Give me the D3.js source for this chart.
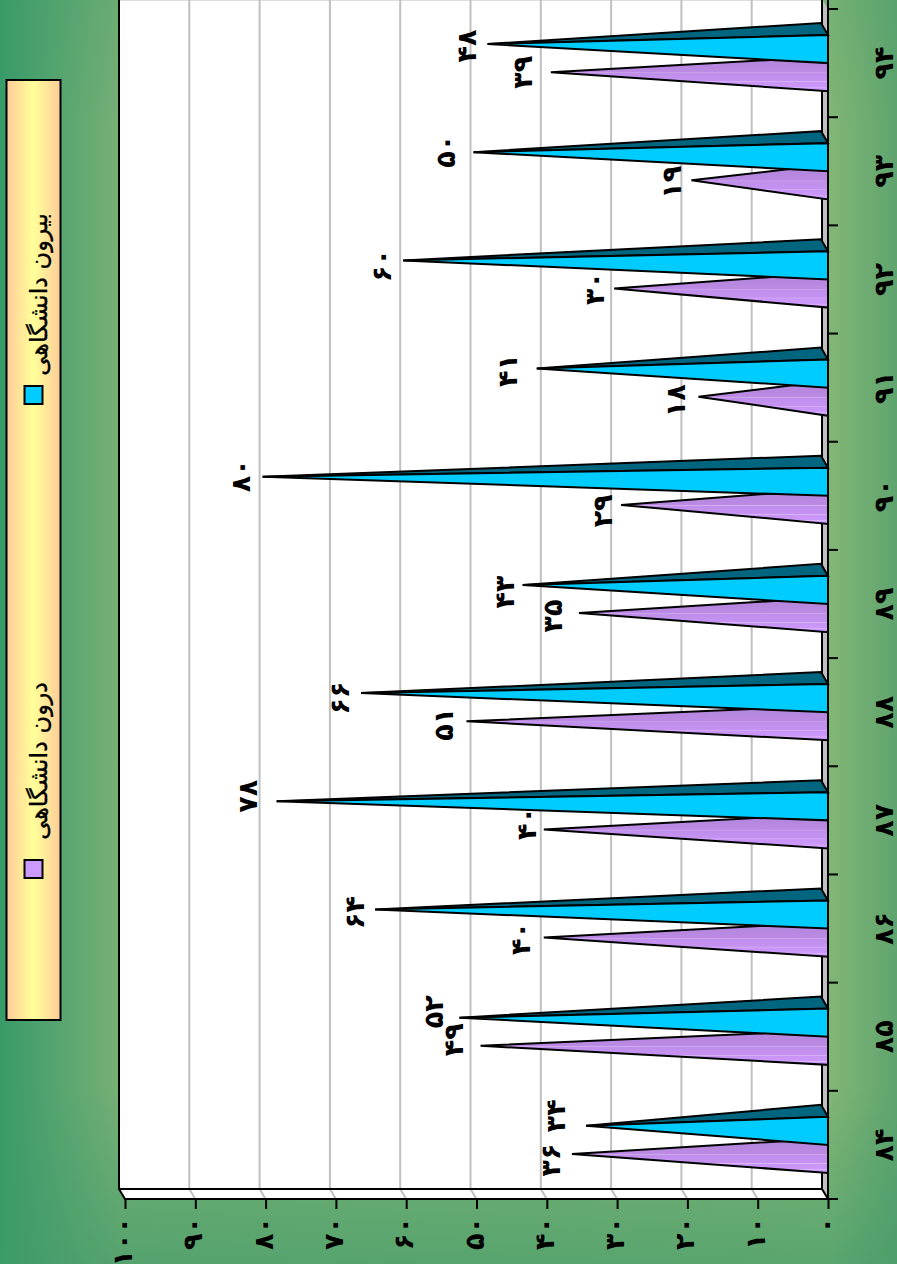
<!DOCTYPE html>
<html><head><meta charset="utf-8">
<script src="https://cdnjs.cloudflare.com/ajax/libs/d3/7.8.5/d3.min.js"></script>
<style>html,body{margin:0;padding:0;background:#fff}svg{display:block}
text{font-family:"DejaVu Sans",sans-serif}</style></head><body>
<svg id="c" width="897" height="1264"></svg>
<script>
const categories=[84,85,86,87,88,89,90,91,92,93,94];
const insideValues=[36,49,40,40,51,35,29,18,30,19,39];
const outsideValues=[34,52,64,78,66,43,80,41,60,50,48];
const valueTicks=[0,10,20,30,40,50,60,70,80,90,100];
const seriesNames=["درون دانشگاهی","بیرون دانشگاهی"];
// hand-placed data labels in the source chart: [dx,dy] relative to the default spot
const insideNudge=[[2,6],[-4,-6],[0,1],[6,-6],[0,3],[-3,3],[4,6],[0,4],[3,0],[3,2],[-5,0]];
const outsideNudge=[[-7,-10],[-3,-6],[2,3],[-6,-5],[1,5],[5,7],[1,-1],[-6,2],[1,5],[-5,-1],[2,2]];

const W=897,H=1264,svg=d3.select("#c");
const fa=n=>String(n).replace(/\d/g,d=>"۰۱۲۳۴۵۶۷۸۹"[d]);
const x=d3.scaleLinear().domain([0,100]).range([828,125]);
const y=d3.scaleBand().domain(categories).range([1199,9]).paddingInner(0.48).paddingOuter(0.24);
const step=y.step();
const y2=d3.scaleBand().domain([1,0]).range([0,y.bandwidth()]);
const depth={x:-6,y:-10},barDepth={x:-7,y:-12},innerDepth={x:-7,y:-6};
const defs=svg.append("defs");
function grad(id,attrs,stops){const g=defs.append("linearGradient").attr("id",id);
  Object.entries(attrs).forEach(([k,v])=>g.attr(k,v));
  stops.forEach(s=>g.append("stop").attr("offset",s[0]).attr("stop-color",s[1]).attr("stop-opacity",s[2]===undefined?1:s[2]));}
grad("bgH",{x1:0,y1:0,x2:1,y2:0},[[0,"#389a69"],[120/897,"#77b076"],[830/897,"#82b676"],[1,"#5fa46e"]]);
grad("bgB",{x1:0,y1:0,x2:0,y2:1},[[0,"#3f9a69",0],[0.86,"#3f9a69",0],[1,"#3f9a69",.6]]);
grad("bgT",{x1:0,y1:0,x2:0,y2:1},[[0,"#3f9a69",.2],[0.1,"#3f9a69",0]]);
grad("leg",{x1:0,y1:0,x2:1,y2:0},[[0,"#ffcc99"],[.5,"#ffff99"],[1,"#ffcc99"]]);
grad("pur",{x1:0,y1:0,x2:0,y2:1},[[0,"#b285da"],[.3,"#b888e0"],[.44,"#bc8ae4"],[.46,"#d2aef0"],[.48,"#bf8eea"],[.7,"#c592f2"],[.72,"#dab8f8"],[.74,"#c894f6"],[.88,"#cb98fb"],[.9,"#deb8ff"],[.92,"#cc99ff"],[1,"#cc99ff"]]);
svg.append("rect").attr("width",W).attr("height",H).attr("fill","url(#bgH)");
svg.append("rect").attr("width",W).attr("height",H).attr("fill","url(#bgB)");
svg.append("rect").attr("width",W).attr("height",H).attr("fill","url(#bgT)");

const floorY=1199,backY=floorY+depth.y,x0=x(0),x100=x(100);
// walls
svg.append("rect").attr("x",x100+depth.x).attr("y",-1).attr("width",x0-x100).attr("height",backY+1).attr("fill","#fff");
svg.append("polygon").attr("points",[[x100+depth.x,backY],[x0+depth.x,backY],[x0,floorY],[x100,floorY]].join(" ")).attr("fill","#fff");
svg.append("polygon").attr("points",[[x0+depth.x,-1],[x0,9],[x0,floorY],[x0+depth.x,backY]].join(" ")).attr("fill","#c0c0c0");
svg.append("line").attr("x1",x100+depth.x).attr("x2",x0+depth.x).attr("y1",0.5).attr("y2",0.5).attr("stroke","#dcdcdc");
// grid
valueTicks.slice(1,-1).forEach(v=>{
  svg.append("path").attr("d",`M${x(v)+depth.x},-1V${backY}L${x(v)},${floorY}`).attr("fill","none").attr("stroke","#c0c0c0").attr("stroke-width",2);
});
// frame
const fr="#000";
svg.append("path").attr("d",`M${x100+depth.x},-1V${backY}H${x0+depth.x}V-1`).attr("fill","none").attr("stroke",fr).attr("stroke-width",2);
svg.append("path").attr("d",`M${x100+depth.x},${backY}L${x100},${floorY}H${x0}V0M${x0+depth.x},${backY}L${x0},${floorY}`).attr("fill","none").attr("stroke",fr).attr("stroke-width",2);
// axes
// the zero glyph has a wide advance, so numbers ending in it are set tighter
const spacing=v=>(v>0&&v%10===0)?(v===100?-15:-8):-3;
const numFont=s=>s.style("font-family",'"DejaVu Sans"').style("font-weight","bold").style("font-size","27px").style("letter-spacing",d=>spacing(d)+"px");
const ax=svg.append("g").attr("transform",`translate(0,${floorY})`).call(d3.axisBottom(x).tickValues(valueTicks).tickSize(10).tickSizeOuter(0).tickFormat(fa));
ax.select(".domain").remove();
ax.selectAll("line").attr("stroke","#000").attr("stroke-width",2);
ax.selectAll("text").attr("y",0).attr("dy",null).attr("text-anchor","end").attr("dominant-baseline","central")
  .attr("transform",`translate(-3,18) rotate(-90)`).attr("fill","#000").call(numFont);
const ay=svg.append("g").attr("transform",`translate(${x0},0)`).call(d3.axisRight(y).tickSize(0).tickFormat(fa));
ay.select(".domain").remove();
ay.selectAll("text").attr("x",0).attr("dy",null).attr("text-anchor","middle").attr("dominant-baseline","central")
  .attr("transform",`translate(55,0) rotate(-90)`).attr("fill","#000").call(numFont);
svg.append("g").selectAll("line").data(d3.range(categories.length+1)).join("line")
  .attr("x1",x0).attr("x2",x0+10).attr("y1",i=>floorY-i*step).attr("y2",i=>floorY-i*step).attr("stroke","#000").attr("stroke-width",2);
// bars
function spike(cat,val,s,d){
  const bot=y(cat)+y2(s)+y2.bandwidth(), top=y(cat)+y2(s);
  const ap=[x(val)+depth.x/2,(top+bot)/2+depth.y/2];
  return {bot,top,ap,back:[x0+d.x,top+d.y],f1:[x0,top],f2:[x0,bot]};
}
const g=svg.append("g").attr("stroke-linejoin","miter").attr("stroke-miterlimit",4);
categories.forEach((c,i)=>{
  const p=spike(c,insideValues[i],0,innerDepth);
  g.append("polygon").attr("points",[p.ap,p.back,p.f1,p.f2].join(" ")).attr("fill","url(#pur)").attr("stroke","#000").attr("stroke-width",2);
  const b=spike(c,outsideValues[i],1,barDepth);
  g.append("polygon").attr("points",[b.ap,b.back,b.f1].join(" ")).attr("fill","#006680").attr("stroke","#000").attr("stroke-width",2);
  g.append("polygon").attr("points",[b.ap,b.f1,b.f2].join(" ")).attr("fill","#00ccff").attr("stroke","#000").attr("stroke-width",2);
});
// data labels
function lab(c,v,s,n){
  const p=spike(c,v,s,barDepth);
  svg.append("text").datum(v).text(fa(v)).attr("text-anchor","middle").attr("dominant-baseline","central")
   .attr("transform",`translate(${p.ap[0]-23+n[0]},${p.ap[1]+n[1]}) rotate(-90)`)
   .call(numFont);
}
categories.forEach((c,i)=>{lab(c,insideValues[i],0,insideNudge[i]);lab(c,outsideValues[i],1,outsideNudge[i]);});
// legend
const lg=svg.append("g");
lg.append("rect").attr("x",6.5).attr("y",80).attr("width",54).attr("height",940).attr("fill","url(#leg)").attr("stroke","#000").attr("stroke-width",2);
[[869,682],[395,213]].forEach((p,i)=>{
  lg.append("rect").attr("x",24.5).attr("y",p[0]-9).attr("width",18).attr("height",18).attr("fill",i?"#00ccff":"#cc99ff").attr("stroke","#000").attr("stroke-width",2);
  lg.append("text").text(seriesNames[i]).attr("text-anchor","end").attr("transform",`translate(47,${p[1]}) rotate(-90)`).attr("font-size",24).attr("fill","#000").attr("stroke","#000").attr("stroke-width",0.35);
});
</script></body></html>
